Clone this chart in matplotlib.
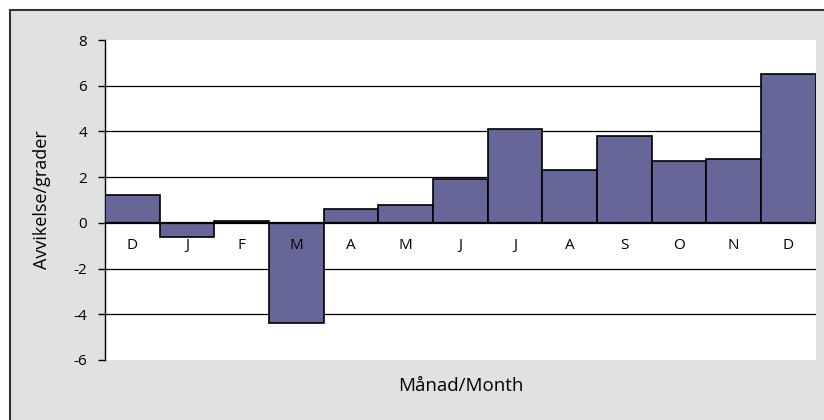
import matplotlib.pyplot as plt
import matplotlib.patches as patches

# Data
months = ["D", "J", "F", "M", "A", "M", "J", "J", "A", "S", "O", "N", "D"]
deviation = [1.2, -0.6, 0.1, -4.4, 0.6, 0.8, 1.9, 4.1, 2.3, 3.8, 2.7, 2.8, 6.5]
yticks = [-6, -4, -2, 0, 2, 4, 6, 8]

plt.rcParams['font.family'] = ['Open Sans', 'DejaVu Sans']

fig = plt.figure(figsize=(8.24, 4.2), dpi=100)
fig.patch.set_facecolor("white")

# grey panel with dark border at top/left
panel = patches.Rectangle((10 / 824, -0.05), 1.1, 1 - 10 / 420 + 0.05,
                          transform=fig.transFigure, facecolor="#e1e1e1",
                          edgecolor="#333333", linewidth=1.5, zorder=-5)
fig.patches.append(panel)

ax = fig.add_axes([105 / 824, 1 - 360 / 420, (815.7 - 105) / 824, 320 / 420])
ax.set_zorder(1)
ax.set_facecolor("white")

x = list(range(len(months)))
ax.bar(x, deviation, width=1.0, color="#666699", edgecolor="black",
       linewidth=1.2, zorder=3)

# horizontal grid lines
for yv in yticks:
    if yv in (8, -6):
        continue
    lw = 1.6 if yv == 0 else 0.9
    ax.axhline(yv, color="black", linewidth=lw, zorder=2 if yv != 0 else 4)

# month labels just below the zero line
for xi, m in zip(x, months):
    ax.text(xi, -1.0, m, ha="center", va="center", fontsize=11, zorder=5)

ax.set_xlim(-0.5, len(months) - 0.5)
ax.set_ylim(-6, 8)
ax.set_yticks(yticks)
ax.set_yticklabels([str(v) for v in yticks], fontsize=11)
ax.set_xticks([])
ax.tick_params(axis="y", direction="out", length=5, width=1, pad=8)

for side in ["top", "right", "bottom"]:
    ax.spines[side].set_visible(False)
ax.spines["left"].set_linewidth(1)

ax.set_ylabel("Avvikelse/grader", fontsize=13, labelpad=16)
fig.text((105 + 815.7) / 2 / 824, 1 - 386 / 420, "Månad/Month",
         ha="center", va="center", fontsize=13.5)

fig.savefig("out.png", dpi=100)
